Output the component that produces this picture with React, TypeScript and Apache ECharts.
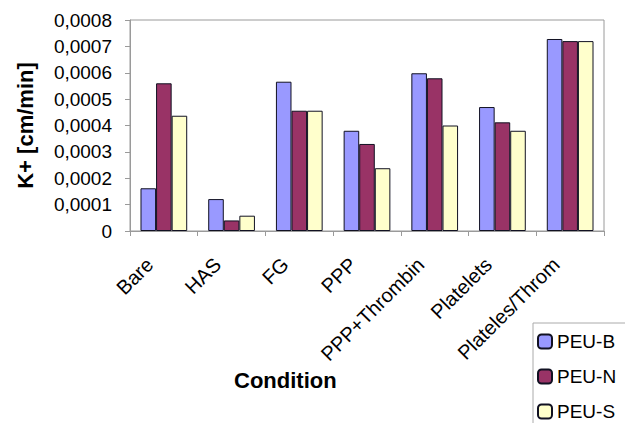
import React, { useEffect, useRef } from "react";
import * as echarts from "echarts";

const categories = ["Bare", "HAS", "FG", "PPP", "PPP+Thrombin", "Platelets", "Plateles/Throm"];
const peuB = [0.000162, 0.000121, 0.000566, 0.00038, 0.000598, 0.00047, 0.000728];
const peuN = [0.00056, 0.00004, 0.000456, 0.00033, 0.000579, 0.000412, 0.00072];
const peuS = [0.000437, 0.000058, 0.000456, 0.000238, 0.0004, 0.00038, 0.00072];
const seriesNames = ["PEU-B", "PEU-N", "PEU-S"];
const colors = ["#9999FF", "#993366", "#FFFFCC"];

const FONT = "Liberation Sans, Arial, sans-serif";

export default function App() {
  const ref = useRef<HTMLDivElement>(null);
  useEffect(() => {
    if (!ref.current) return;
    const chart = echarts.init(ref.current, null, { renderer: "svg" });
    const data = [peuB, peuN, peuS];
    chart.setOption({
      animation: false,
      backgroundColor: "#ffffff",
      textStyle: { fontFamily: FONT },
      grid: {
        left: 130,
        right: 21,
        top: 20,
        bottom: 192,
        show: true,
        borderColor: "#9a9a9a",
        borderWidth: 1,
      },
      legend: {
        orient: "vertical",
        left: 537,
        top: 332,
        itemWidth: 14,
        itemHeight: 14,
        itemGap: 16,
        padding: 0,
        textStyle: { fontSize: 19, color: "#000", fontFamily: FONT },
        data: seriesNames,
      },
      xAxis: {
        type: "category",
        data: categories,
        axisLine: { show: true, lineStyle: { color: "#9a9a9a", width: 1 } },
        axisTick: { show: true, alignWithLabel: false, length: 5, lineStyle: { color: "#9a9a9a" } },
        axisLabel: {
          rotate: 45,
          interval: 0,
          margin: 16,
          fontSize: 20,
          color: "#000",
          fontFamily: FONT,
          padding: [0, 20, 0, 0],
        },
      },
      yAxis: {
        type: "value",
        min: 0,
        max: 0.0008,
        interval: 0.0001,
        name: "K+ [cm/min]",
        nameLocation: "middle",
        nameGap: 94,
        nameRotate: 90,
        nameTextStyle: { fontSize: 22, fontWeight: "bold", color: "#000", fontFamily: FONT },
        axisLine: { show: true, lineStyle: { color: "#9a9a9a", width: 1 } },
        axisTick: { show: true, length: 5, lineStyle: { color: "#9a9a9a" } },
        splitLine: { show: false },
        axisLabel: {
          margin: 18,
          fontSize: 19,
          color: "#000",
          fontFamily: FONT,
          formatter: (v: number) => (v === 0 ? "0" : v.toFixed(4).replace(".", ",")),
        },
      },
      series: seriesNames.map((name, i) => ({
        name,
        type: "bar",
        data: data[i],
        barGap: "0%",
        barCategoryGap: "31%",
        itemStyle: { color: colors[i], borderColor: "#111122", borderWidth: 1 },
      })),
      graphic: [
        {
          type: "rect",
          shape: { x: 533, y: 323, width: 140, height: 140 },
          style: { fill: "none", stroke: "#aaaaaa", lineWidth: 1 },
          z: -1,
          silent: true,
        },
        {
          type: "text",
          left: 234,
          top: 369,
          style: {
            text: "Condition",
            fontSize: 22,
            fontWeight: "bold",
            fill: "#000",
            fontFamily: FONT,
          },
        },
      ],
    });
    return () => chart.dispose();
  }, []);
  return (
    <div
      ref={ref}
      style={{ position: "absolute", left: 0, top: 0, width: 625, height: 423 }}
    />
  );
}
